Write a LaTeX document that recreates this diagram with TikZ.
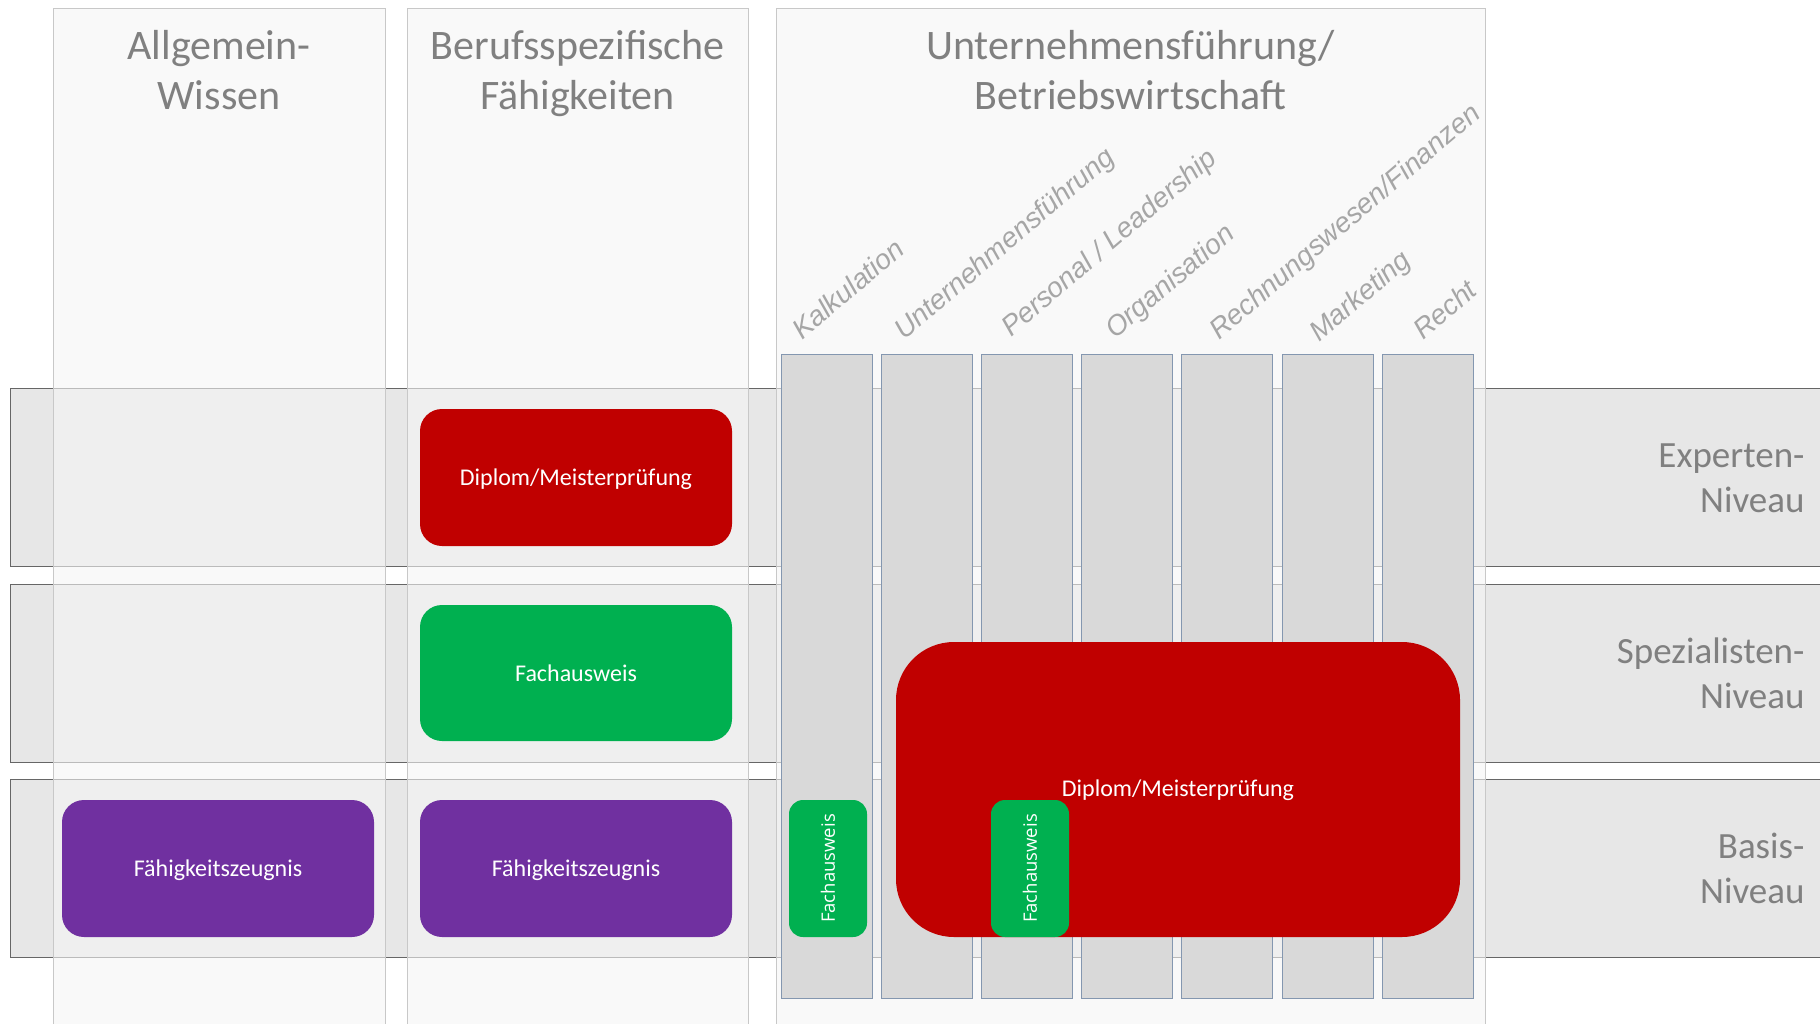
\documentclass[tikz,border=0pt]{standalone}
\usepackage{fontspec}
\setmainfont{Carlito}
\newfontfamily\osans{Open Sans}
\newfontfamily\arialf{Liberation Sans}
\definecolor{bandfill}{HTML}{E7E7E7}
\definecolor{bandline}{HTML}{666666}
\definecolor{colfill}{HTML}{F5F5F5}
\definecolor{colline}{HTML}{C8C8C8}
\definecolor{subfill}{HTML}{D9D9D9}
\definecolor{subline}{HTML}{8497B0}
\definecolor{headgray}{HTML}{808080}
\definecolor{labgray}{HTML}{A6A6A6}
\definecolor{boxred}{HTML}{C00000}
\definecolor{boxgreen}{HTML}{00B050}
\definecolor{boxpurple}{HTML}{7030A0}
\begin{document}
\begin{tikzpicture}[x=1pt,y=-1pt,
  column/.style={fill=colfill, fill opacity=0.6, draw=colline, draw opacity=1, line width=1pt},
  subcol/.style={fill=subfill, draw=subline, line width=1pt},
  heading/.style={text=headgray, font=\fontsize{42}{50}\selectfont, align=center, anchor=base},
  levellabel/.style={text=headgray, font=\fontsize{37}{45}\selectfont, align=right, anchor=base east},
  topic/.style={text=labgray, font=\arialf\itshape\fontsize{28}{32}\selectfont, rotate=40.5, anchor=base west, inner sep=0pt},
  qualbox/.style={rounded corners=22pt, text=white, font=\fontsize{24}{28}\selectfont, inner sep=0pt, text depth=0pt},
  qualtext/.style={text=white, font=\fontsize{24}{28}\selectfont, inner sep=0pt},
  vbox/.style={rounded corners=14pt, fill=boxgreen, text=white, minimum width=78pt, minimum height=137pt, inner sep=0pt}
]
\useasboundingbox (0,0) rectangle (1820,1024);
\fill[white] (0,0) rectangle (1820,1024);
% level bands
\foreach \t/\b in {388/566, 584/762, 779/957}{
  \fill[bandfill] (10,\t) rectangle (1830,\b);
  \draw[bandline, line width=1pt] (1830,\t) -- (10,\t) -- (10,\b) -- (1830,\b);
}
% columns
\draw[column] (53,9) rectangle (385,1030);
\draw[column] (407,9) rectangle (748,1030);
\draw[column] (776,9) rectangle (1485,1030);
% sub columns
\foreach \i in {0,...,6}{
  \draw[subcol] ({781+\i*100.2},354) rectangle ({872+\i*100.2},998);
}
% headings
\node[heading] (h1) at (219,110) {Allgemein-\\Wissen};
\node[heading] (h2) at (577.5,110) {Berufsspezifische\\Fähigkeiten};
\node[heading] (h3) at (1130.5,110) {Unternehmensführung/\\Betriebswirtschaft};
% level labels
\node[levellabel] (l1) at (1808,512) {Experten-\\Niveau};
\node[levellabel] (l2) at (1808,708) {Spezialisten-\\Niveau};
\node[levellabel] (l3) at (1808,903) {Basis-\\Niveau};
% topics
\node[topic] (t1) at (802,341) {Kalkulation};
\node[topic] (t2) at (904,341) {Unternehmensführung};
\node[topic] (t3) at (1011,338) {Personal / Leadership};
\node[topic] (t4) at (1115,340) {Organisation};
\node[topic] (t5) at (1219,341) {Rechnungswesen/Finanzen};
\node[topic] (t6) at (1319,343) {Marketing};
\node[topic] (t7) at (1423,341) {Recht};
% qualification boxes
\node[qualbox, fill=boxred, minimum width=312pt, minimum height=137pt] (d1) at (576,477.5) {};
\node[qualtext] (d1t) at ([yshift=-2pt]d1.center) {Diplom/Meisterprüfung};
\node[qualbox, fill=boxgreen, minimum width=312pt, minimum height=136pt] (f1) at (576,673) {Fachausweis};
\node[qualbox, fill=boxpurple, minimum width=312pt, minimum height=137pt] (p1) at (218,868.5) {};
\node[qualtext] (p1t) at ([yshift=-2pt]p1.center) {Fähigkeitszeugnis};
\node[qualbox, fill=boxpurple, minimum width=312pt, minimum height=137pt] (p2) at (576,868.5) {};
\node[qualtext] (p2t) at ([yshift=-2pt]p2.center) {Fähigkeitszeugnis};
\node[qualbox, rounded corners=58pt, fill=boxred, minimum width=564pt, minimum height=295pt] (d2) at (1178,789.5) {};
\node[qualtext] (d2t) at ([yshift=-1pt]d2.center) {Diplom/Meisterprüfung};
\node[vbox] (g1) at (828,868.5) {};
\node[text=white, font=\osans\fontsize{18.5}{22}\selectfont, rotate=90] (g1t) at (g1.center) {Fachausweis};
\node[vbox] (g2) at (1030,868.5) {};
\node[text=white, font=\osans\fontsize{18.5}{22}\selectfont, rotate=90] (g2t) at (g2.center) {Fachausweis};
\end{tikzpicture}
\end{document}
